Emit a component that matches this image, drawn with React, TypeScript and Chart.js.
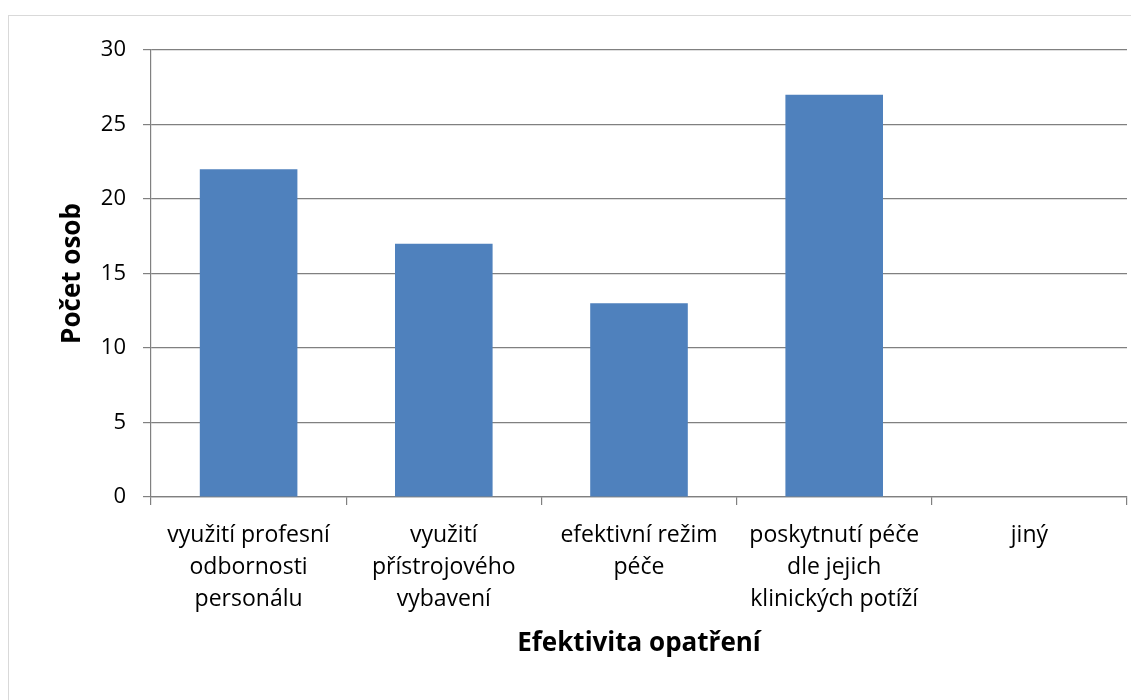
import React, { useEffect, useRef } from "react";
import { Chart, registerables } from "chart.js";

Chart.register(...registerables);

const categories: string[][] = [
  ["využití profesní", "odbornosti", "personálu"],
  ["využití", "přístrojového", "vybavení"],
  ["efektivní režim", "péče"],
  ["poskytnutí péče", "dle jejich", "klinických potíží"],
  ["jiný"],
];
const values: number[] = [22, 17, 13, 27, 0];
const yTitle = "Počet osob";
const xTitle = "Efektivita opatření";
const yMin = 0;
const yMax = 30;
const yStep = 5;

const FONT = "'Open Sans', 'Noto Sans', sans-serif";
const GRID = "#808080";

export default function App() {
  const ref = useRef<HTMLCanvasElement | null>(null);

  useEffect(() => {
    if (!ref.current) return;
    const chart = new Chart(ref.current, {
      type: "bar",
      data: {
        labels: categories,
        datasets: [
          {
            data: values,
            backgroundColor: "#4F81BD",
            borderWidth: 0,
            barPercentage: 0.5,
            categoryPercentage: 1,
          },
        ],
      },
      options: {
        animation: false,
        responsive: false,
        maintainAspectRatio: false,
        layout: { padding: { left: 57, top: 50, right: 4, bottom: 0 } },
        plugins: {
          legend: { display: false },
          tooltip: { enabled: false },
        },
        scales: {
          x: {
            afterFit: (s: any) => {
              s.height = 203;
            },
            grid: {
              drawOnChartArea: false,
              drawTicks: true,
              tickLength: 8,
              color: GRID,
              offset: true,
              lineWidth: 1.2,
            },
            border: { display: true, color: GRID, width: 1.2 },
            ticks: {
              color: "#000",
              padding: 14,
              maxRotation: 0,
              autoSkip: false,
              font: { family: FONT, size: 23, lineHeight: 32 / 23 },
            },
            title: {
              display: true,
              text: xTitle,
              color: "#000",
              padding: { top: 0, bottom: 41 },
              font: { family: FONT, size: 26, weight: "bold", lineHeight: 1.2 },
            },
          },
          y: {
            min: yMin,
            max: yMax,
            afterFit: (s: any) => {
              s.width = 94;
            },
            grid: {
              color: GRID,
              tickLength: 8,
              drawTicks: true,
              lineWidth: 1.2,
            },
            border: { display: true, color: GRID, width: 1.2 },
            ticks: {
              stepSize: yStep,
              color: "#000",
              padding: 17,
              font: { family: FONT, size: 22 },
            },
            title: {
              display: true,
              text: yTitle,
              color: "#000",
              padding: { top: 0, bottom: 0 },
              font: { family: FONT, size: 26, weight: "bold", lineHeight: 1.2 },
            },
          },
        },
      },
    });
    return () => chart.destroy();
  }, []);

  return (
    <div>
      <div
        style={{
          position: "fixed",
          left: 8,
          top: 15,
          width: 1200,
          height: 800,
          border: "1px solid #d9d9d9",
          background: "#fff",
        }}
      />
      <canvas
        ref={ref}
        width={1131}
        height={700}
        style={{ position: "fixed", left: 0, top: 0, width: 1131, height: 700 }}
      />
    </div>
  );
}
